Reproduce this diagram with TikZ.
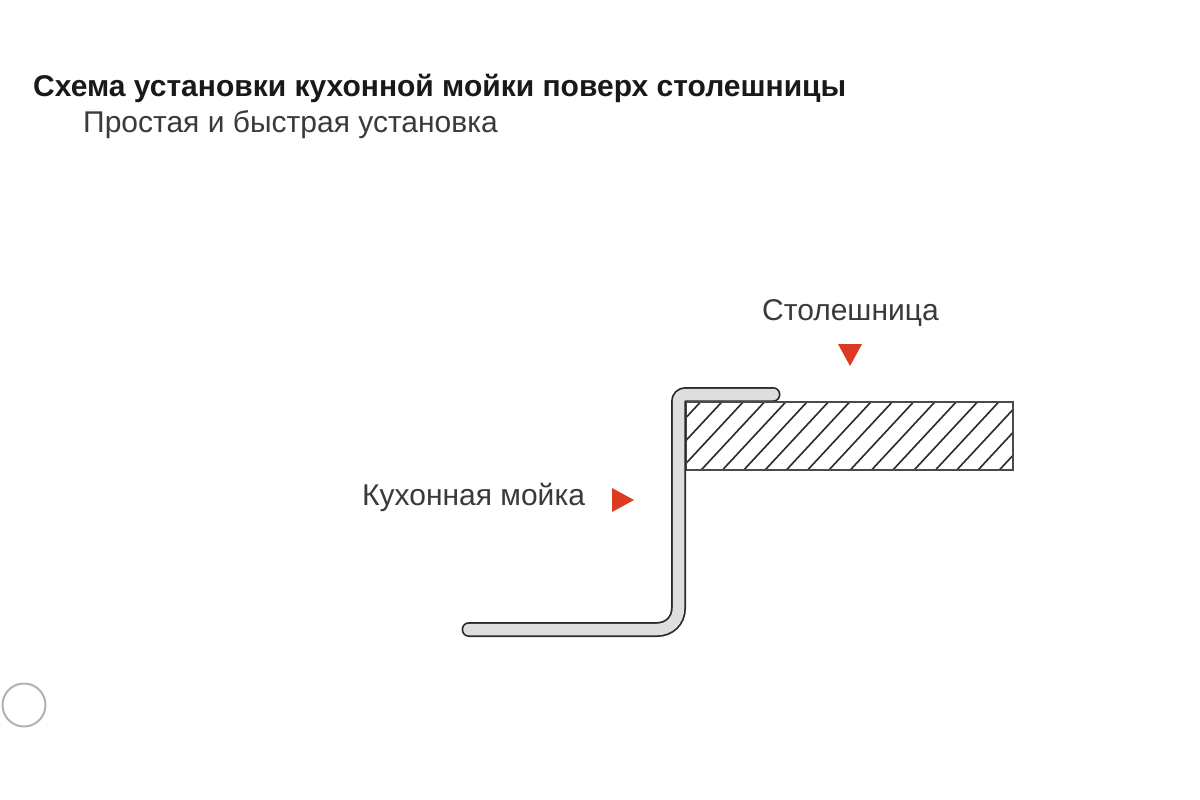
\documentclass[tikz,border=0pt]{standalone}
\usepackage{fontspec}
\setmainfont{Liberation Sans}
\definecolor{inkdark}{HTML}{2A2A2A}
\definecolor{strip}{HTML}{DEDEDE}
\definecolor{mark}{HTML}{DD3A22}
\definecolor{txt}{HTML}{3A3A3A}
\tikzset{
  title/.style={anchor=base west,inner sep=0pt,font=\fontsize{30}{34}\selectfont\bfseries,text=black!90},
  label/.style={anchor=base west,inner sep=0pt,font=\fontsize{30}{34}\selectfont,text=txt},
  redmark/.style={fill=mark,draw=none},
  hatchline/.style={draw=inkdark,line width=1.6pt},
  boardedge/.style={draw=inkdark!85,line width=1.8pt},
}
\begin{document}
\begin{tikzpicture}[x=1pt,y=-1pt]
\useasboundingbox (0,0) rectangle (1200,800);
\fill[white] (0,0) rectangle (1200,800);
\node[title] (t1) at (33,96) {Схема установки кухонной мойки поверх столешницы};
\node[label] (t2) at (83,132) {Простая и быстрая установка};
\node[label] (t3) at (762,320) {Столешница};
\node[label] (t4) at (362,505) {Кухонная мойка};
% hatching
\begin{scope}
\clip (686,402) rectangle (1013,470);
\foreach \i in {0,...,17}{
  \draw[hatchline] ({700.5+21.3*\i},402) -- ++(-63.24,68);
}
\end{scope}
\draw[boardedge] (686,402) rectangle (1013,470);
% sink profile
\def\profile{(773,394.5) -- (686,394.5) .. controls (681.5,394.5) and (678.5,397.5) .. (678.5,402) -- (678.5,608) .. controls (678.5,621) and (669,629.5) .. (657,629.5) -- (469,629.5)}
\draw[inkdark,line width=15pt,line cap=round] \profile;
\draw[strip,line width=11.5pt,line cap=round] \profile;
\draw[boardedge] (686,402) -- (780,402);
% markers
\fill[redmark] (838,344) -- (862,344) -- (850,366) -- cycle;
\fill[redmark] (612,488) -- (634,500) -- (612,512) -- cycle;
% circle
\draw[black!30,line width=2pt] (24,705) circle (21.5);
\end{tikzpicture}
\end{document}
